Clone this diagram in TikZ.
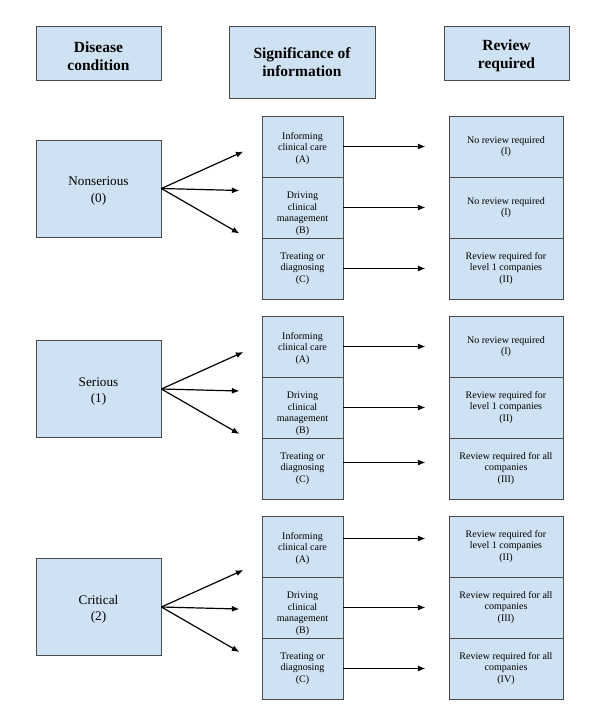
\documentclass[tikz,border=0pt]{standalone}
\usepackage{fontspec}
\setmainfont{Liberation Serif}
\newfontfamily\tnr{Liberation Serif}
\usetikzlibrary{arrows.meta}
\definecolor{boxblue}{HTML}{CFE2F3}
\definecolor{boxline}{HTML}{4A4A4A}
\newcommand{\pushdown}[1]{\rule{0pt}{#1}}
\begin{document}
\begin{tikzpicture}[x=1pt,y=-1pt,
  box/.style={draw=boxline, fill=boxblue, line width=0.8pt, inner sep=0pt, align=center},
  hdr/.style={box, font=\tnr\fontsize{15.5}{18}\selectfont\bfseries},
  cond/.style={box, minimum width=125pt, minimum height=97pt, font=\tnr\fontsize{13.2}{16.7}\selectfont},
  sig/.style={box, minimum width=81pt, minimum height=61pt, font=\tnr\fontsize{10}{11.7}\selectfont},
  rev/.style={box, minimum width=114pt, minimum height=61pt, font=\tnr\fontsize{10}{11.7}\selectfont},
  arr/.style={line width=1.2pt, -{Latex[length=7.5pt,width=6pt]}}
]
\useasboundingbox (0,0) rectangle (594,713);

% headers
\node[hdr, minimum width=125pt, minimum height=54pt] (h1) at (98.5,53) {\pushdown{17pt}Disease\\condition};
\node[hdr, minimum width=146pt, minimum height=72pt] (h2) at (302,62) {Significance of\\information};
\node[hdr, minimum width=125pt, minimum height=54pt] (h3) at (506.5,53) {\pushdown{17pt}Review\\required};

% condition boxes
\node[cond] (c1) at (98.5,188.5) {\pushdown{14pt}Nonserious\\(0)};
\node[cond] (c2) at (98.5,389) {\pushdown{14pt}Serious\\(1)};
\node[cond] (c3) at (98.5,607) {\pushdown{14pt}Critical\\(2)};

% group 1
\node[sig] (m1a) at (302.5,146.5) {\pushdown{11pt}Informing\\clinical care\\(A)};
\node[sig] (m1b) at (302.5,207.5) {\pushdown{19pt}Driving\\clinical\\management\\(B)};
\node[sig] (m1c) at (302.5,268.5) {Treating or\\diagnosing\\(C)};
\node[rev] (r1a) at (506,146.5) {No review required\\(I)};
\node[rev] (r1b) at (506,207.5) {No review required\\(I)};
\node[rev] (r1c) at (506,268.5) {Review required for\\level 1 companies\\(II)};

% group 2
\node[sig] (m2a) at (302.5,346.5) {\pushdown{11pt}Informing\\clinical care\\(A)};
\node[sig] (m2b) at (302.5,407.5) {\pushdown{19pt}Driving\\clinical\\management\\(B)};
\node[sig] (m2c) at (302.5,468.5) {Treating or\\diagnosing\\(C)};
\node[rev] (r2a) at (506,346.5) {No review required\\(I)};
\node[rev] (r2b) at (506,407.5) {Review required for\\level 1 companies\\(II)};
\node[rev] (r2c) at (506,468.5) {Review required for all\\companies\\(III)};

% group 3
\node[sig] (m3a) at (302.5,546.5) {\pushdown{11pt}Informing\\clinical care\\(A)};
\node[sig] (m3b) at (302.5,607.5) {\pushdown{19pt}Driving\\clinical\\management\\(B)};
\node[sig] (m3c) at (302.5,668.5) {Treating or\\diagnosing\\(C)};
\node[rev] (r3a) at (506,546.5) {Review required for\\level 1 companies\\(II)};
\node[rev] (r3b) at (506,607.5) {Review required for all\\companies\\(III)};
\node[rev] (r3c) at (506,668.5) {Review required for all\\companies\\(IV)};

% fan arrows
\foreach \c in {1,2,3}{
  \coordinate (f\c a) at ([shift={(82,-37)}]c\c.east);
  \coordinate (f\c b) at ([shift={(78,2)}]c\c.east);
  \coordinate (f\c c) at ([shift={(78,45)}]c\c.east);
  \draw[arr] (c\c.east) -- (f\c a);
  \draw[arr] (c\c.east) -- (f\c b);
  \draw[arr] (c\c.east) -- (f\c c);
}

% horizontal arrows
\foreach \g in {1,2,3}{
  \foreach \r in {a,b,c}{
    \coordinate (s\g\r) at (m\g\r.east);
  }
}
\coordinate (s2c) at ([yshift=6pt]m2c.east);
\coordinate (s3a) at ([yshift=8pt]m3a.east);
\foreach \g in {1,2,3}{
  \foreach \r in {a,b,c}{
    \coordinate (t\g\r) at ([xshift=82pt]s\g\r);
    \draw[arr] (s\g\r) -- (t\g\r);
  }
}
\end{tikzpicture}
\end{document}
